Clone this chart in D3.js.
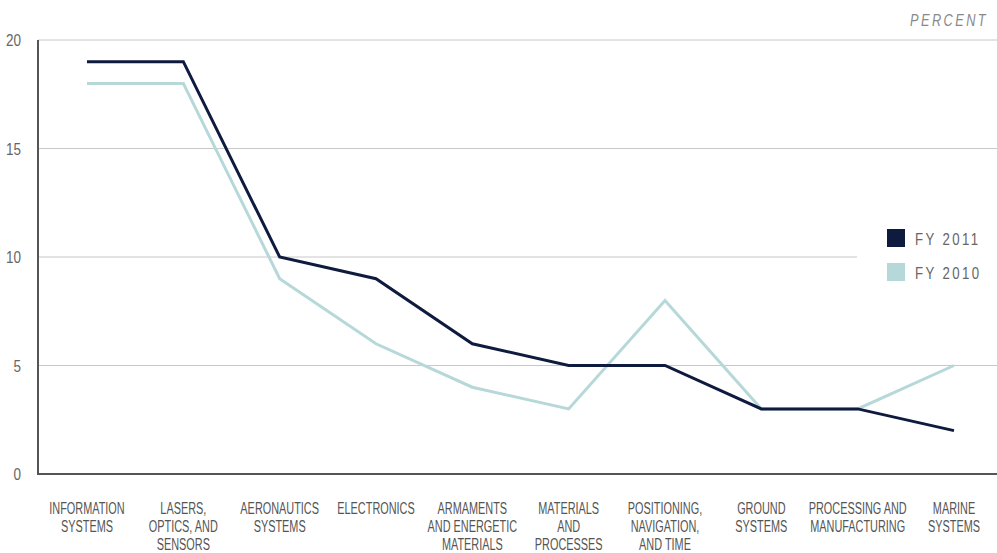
<!DOCTYPE html>
<html><head><meta charset="utf-8">
<script src="https://cdn.jsdelivr.net/npm/d3@7"></script>
<style>body{margin:0;background:#fff}svg{display:block}</style>
</head><body><div id="chart"></div>
<script>
const categories = [
  ["INFORMATION","SYSTEMS"],
  ["LASERS,","OPTICS, AND","SENSORS"],
  ["AERONAUTICS","SYSTEMS"],
  ["ELECTRONICS"],
  ["ARMAMENTS","AND ENERGETIC","MATERIALS"],
  ["MATERIALS","AND","PROCESSES"],
  ["POSITIONING,","NAVIGATION,","AND TIME"],
  ["GROUND","SYSTEMS"],
  ["PROCESSING AND","MANUFACTURING"],
  ["MARINE","SYSTEMS"]
];
const fy2011 = [19,19,10,9,6,5,5,3,3,2];
const fy2010 = [18,18,9,6,4,3,8,3,3,5];
const yTicks = [0,5,10,15,20];
const seriesNames = ["FY 2011","FY 2010"];
const colors = ["#0f1b3e","#b7d8d9"];

const W=997,H=553;
const font = "'Liberation Sans',Arial,sans-serif";
const svg=d3.select("#chart").append("svg").attr("width",W).attr("height",H);
const x=d3.scalePoint().domain(d3.range(categories.length)).range([87,954]);
const y=d3.scaleLinear().domain([0,20]).range([474,40]);

// gridlines
svg.append("g").selectAll("line").data(yTicks.filter(d=>d>0)).join("line")
  .attr("x1",38).attr("x2",W).attr("y1",d=>y(d)).attr("y2",d=>y(d))
  .attr("stroke","#c8c8c8").attr("stroke-width",1);

// y tick labels
svg.append("g").selectAll("g").data(yTicks).join("g")
  .attr("transform",d=>`translate(21,${y(d)+6}) scale(0.82,1)`)
  .append("text").attr("text-anchor","end")
  .attr("font-family",font).attr("font-size",16.5).attr("fill","#666").text(d=>d);

// axes lines
svg.append("line").attr("x1",38).attr("x2",38).attr("y1",40).attr("y2",475).attr("stroke","#555").attr("stroke-width",2);
svg.append("line").attr("x1",37).attr("x2",W).attr("y1",474).attr("y2",474).attr("stroke","#555").attr("stroke-width",2);

// x labels
const xl=svg.append("g").selectAll("g").data(categories).join("g")
  .attr("transform",(d,i)=>`translate(${x(i)},514) scale(0.66,1)`);
xl.each(function(lines){
  d3.select(this).selectAll("text").data(lines).join("text")
    .attr("x",0).attr("y",(d,j)=>j*18).attr("text-anchor","middle")
    .attr("font-family",font).attr("font-size",16.5).attr("fill","#555").text(d=>d);
});

// PERCENT
svg.append("g").attr("transform","translate(988,26) scale(0.8,1)")
  .append("text").attr("text-anchor","end")
  .attr("font-family",font).attr("font-size",16).attr("font-style","italic")
  .attr("letter-spacing",3).attr("fill","#888").text("PERCENT");

// legend background
svg.append("rect").attr("x",857).attr("y",215).attr("width",140).attr("height",80).attr("fill","#fff");

const line=d3.line().x((d,i)=>x(i)).y(d=>y(d));
[fy2010,fy2011].forEach((s,k)=>{
  svg.append("path").datum(s).attr("d",line).attr("fill","none")
    .attr("stroke",k===0?colors[1]:colors[0]).attr("stroke-width",3);
});

// legend
const lg=svg.append("g").selectAll("g").data(seriesNames).join("g")
  .attr("transform",(d,i)=>`translate(887,${229+i*34})`);
lg.append("rect").attr("width",18).attr("height",18).attr("fill",(d,i)=>colors[i]);
lg.append("g").attr("transform","translate(28,16) scale(0.8,1)")
  .append("text").attr("font-family",font).attr("font-size",16.5)
  .attr("letter-spacing",3).attr("fill","#666").text(d=>d);
</script></body></html>
